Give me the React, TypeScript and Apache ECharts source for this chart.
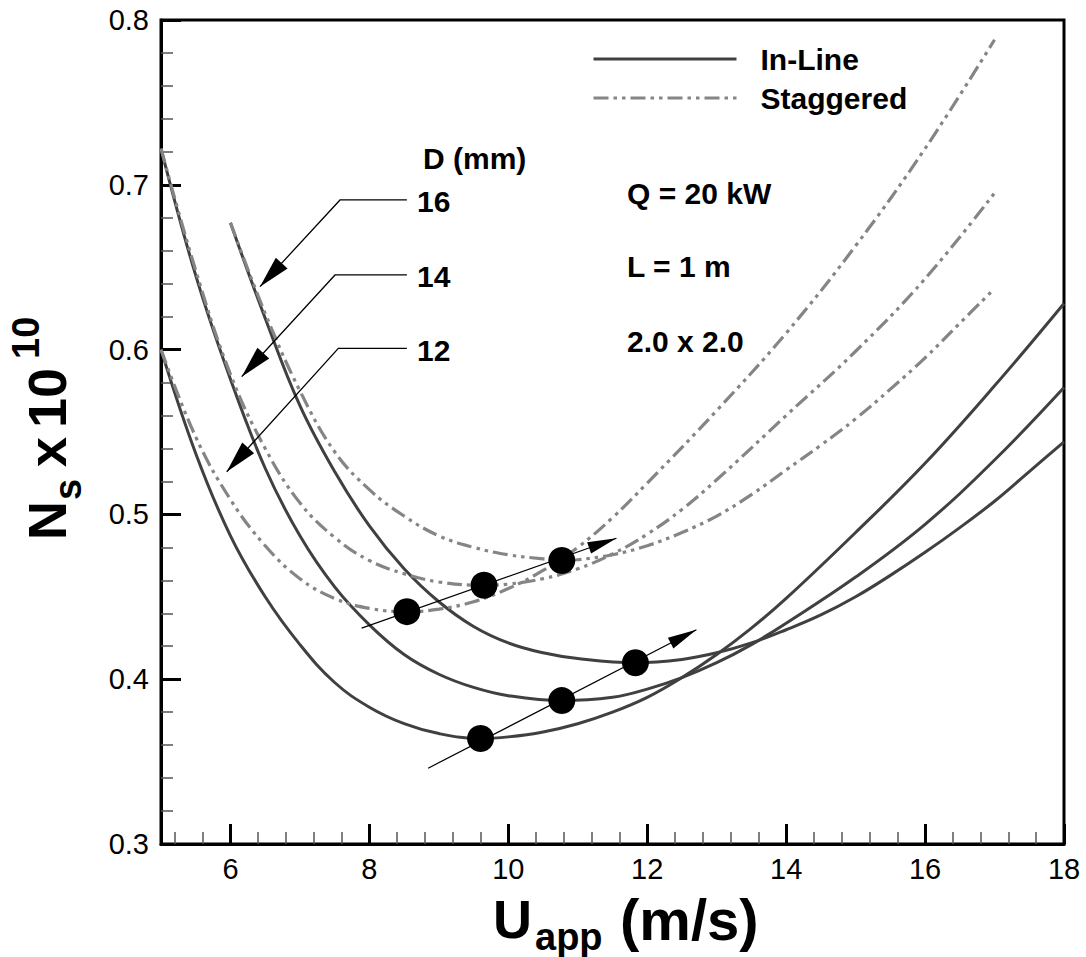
import React, { useEffect, useRef } from 'react';
import * as echarts from 'echarts';

const FONT = '"Liberation Sans", Arial, Helvetica, sans-serif';

// Axis ticks
const xLabelTicks = [6, 8, 10, 12, 14, 16, 18];
const xMinorTicks = [5.2, 5.6, 6.4, 6.8, 7.2, 7.6, 8.4, 8.8, 9.2, 9.6, 10.4, 10.8, 11.2, 11.6, 12.4, 12.8, 13.2, 13.6, 14.4, 14.8, 15.2, 15.6, 16.4, 16.8, 17.2, 17.6];

// In-Line curves (U_app, Ns x 1e10)
const inline12 = [[5.0, 0.600], [5.5, 0.537], [6.0, 0.487], [6.5, 0.450], [7.0, 0.421], [7.5, 0.398], [8.0, 0.383], [8.5, 0.373], [9.0, 0.367], [9.6, 0.364], [10.0, 0.365], [10.5, 0.368], [11.0, 0.373], [11.5, 0.380], [12.0, 0.389], [12.5, 0.401], [13.0, 0.415], [13.5, 0.431], [14.0, 0.449], [15.0, 0.489], [16.0, 0.531], [17.0, 0.578], [18.0, 0.628]];
const inline14 = [[5.0, 0.722], [5.5, 0.645], [6.0, 0.582], [6.5, 0.528], [7.0, 0.487], [7.5, 0.456], [8.0, 0.433], [8.5, 0.415], [9.0, 0.403], [9.5, 0.395], [10.0, 0.390], [10.77, 0.387], [11.5, 0.389], [12.0, 0.394], [12.5, 0.401], [13.0, 0.410], [13.5, 0.421], [14.0, 0.434], [15.0, 0.462], [16.0, 0.494], [17.0, 0.533], [18.0, 0.577]];
const inline16 = [[6.0, 0.677], [6.5, 0.619], [7.0, 0.566], [7.5, 0.526], [8.0, 0.493], [8.5, 0.467], [9.0, 0.447], [9.5, 0.432], [10.0, 0.422], [10.5, 0.416], [11.0, 0.4125], [11.83, 0.410], [12.5, 0.412], [13.0, 0.416], [13.5, 0.422], [14.0, 0.430], [14.5, 0.439], [15.0, 0.450], [15.5, 0.463], [16.0, 0.477], [16.5, 0.492], [17.0, 0.508], [17.5, 0.526], [18.0, 0.544]];

// Staggered curves
const stag12 = [[5.0, 0.600], [5.5, 0.547], [6.0, 0.509], [6.5, 0.481], [7.0, 0.461], [7.5, 0.449], [8.0, 0.443], [8.54, 0.441], [9.0, 0.4425], [9.5, 0.447], [10.0, 0.455], [10.5, 0.466], [11.0, 0.480], [11.5, 0.498], [12.0, 0.519], [13.0, 0.563], [14.0, 0.610], [15.0, 0.663], [16.0, 0.722], [17.0, 0.788]];
const stag14 = [[5.0, 0.722], [5.5, 0.648], [6.0, 0.585], [6.5, 0.540], [7.0, 0.507], [7.5, 0.486], [8.0, 0.472], [8.5, 0.464], [9.0, 0.459], [9.65, 0.457], [10.0, 0.4577], [10.5, 0.461], [11.0, 0.467], [11.5, 0.476], [12.0, 0.488], [12.5, 0.503], [13.0, 0.521], [14.0, 0.560], [15.0, 0.599], [16.0, 0.643], [17.0, 0.695]];
const stag16 = [[6.0, 0.677], [6.5, 0.622], [7.0, 0.575], [7.5, 0.538], [8.0, 0.515], [8.5, 0.499], [9.0, 0.487], [9.5, 0.480], [10.0, 0.4755], [10.5, 0.473], [10.77, 0.472], [11.0, 0.4725], [11.5, 0.4755], [12.0, 0.481], [12.5, 0.489], [13.0, 0.499], [13.5, 0.512], [14.0, 0.527], [14.5, 0.542], [15.0, 0.558], [15.5, 0.576], [16.0, 0.595], [16.5, 0.616], [17.0, 0.637]];

// Optimum points
const inlineOptima = [[9.60, 0.364], [10.77, 0.387], [11.83, 0.410]];
const staggeredOptima = [[8.54, 0.441], [9.65, 0.457], [10.77, 0.472]];

// Trend arrows (start -> tip) and label leaders (label end -> elbow -> tip)
const inlineTrend = [[8.846, 0.346], [12.708, 0.430]];
const staggeredTrend = [[7.888, 0.431], [11.557, 0.4855]];
const leader16 = [[8.54, 0.6908], [7.577, 0.6908], [6.425, 0.6382]];
const leader14 = [[8.54, 0.6453], [7.505, 0.6453], [6.162, 0.5836]];
const leader12 = [[8.54, 0.6008], [7.553, 0.6008], [5.946, 0.5259]];

const arrowDefs = [
  { pts: inlineTrend, len: 29, wid: 12, lw: 1.2 },
  { pts: staggeredTrend, len: 29, wid: 12, lw: 1.2 },
  { pts: leader16, len: 32, wid: 16, lw: 1.3 },
  { pts: leader14, len: 32, wid: 16, lw: 1.3 },
  { pts: leader12, len: 32, wid: 16, lw: 1.3 },
];

const IN_COLOR = '#404040';
const ST_COLOR = '#858585';
const ST_DASH = [15, 5, 3.5, 5, 3.5, 5];

function lineSeries(name: string, data: number[][], staggered: boolean) {
  return {
    type: 'line',
    name,
    data,
    smooth: 0.4,
    symbol: 'none',
    z: 2,
    lineStyle: staggered
      ? { color: ST_COLOR, width: 3.2, type: ST_DASH }
      : { color: IN_COLOR, width: 3, type: 'solid' },
    itemStyle: { color: staggered ? ST_COLOR : IN_COLOR },
  };
}

function txt(text: string, x: number, y: number, size: number, bold = true) {
  return {
    type: 'text',
    x,
    y,
    z: 10,
    style: {
      text,
      fill: '#000',
      font: `${bold ? 'bold ' : ''}${size}px ${FONT}`,
      align: 'left',
      verticalAlign: 'middle',
      textAlign: 'left',
      textVerticalAlign: 'middle',
    },
  };
}

export default function App() {
  const ref = useRef<HTMLDivElement>(null);
  useEffect(() => {
    if (!ref.current) return;
    const chart = echarts.init(ref.current, undefined, { renderer: 'svg' });
    const F = 54;
    const f = 38;
    const option: any = {
      animation: false,
      backgroundColor: '#fff',
      textStyle: { fontFamily: FONT },
      grid: { left: 161, top: 20, width: 903, height: 824, show: true, borderColor: '#000', borderWidth: 3 },
      legend: {
        data: ['In-Line', 'Staggered'],
        orient: 'vertical',
        left: 592,
        top: 44,
        padding: 0,
        itemWidth: 143,
        itemHeight: 14,
        itemGap: 9,
        itemStyle: { opacity: 0, borderWidth: 0 },
        lineStyle: { width: 3, type: 'inherit', color: 'inherit' },
        textStyle: { fontSize: 30, fontWeight: 'bold', color: '#000', fontFamily: FONT, lineHeight: 30, padding: [0, 0, 0, 19] },
      },
      xAxis: [
        {
          type: 'value',
          min: 5,
          max: 18,
          axisLine: { show: true, lineStyle: { color: '#000', width: 3 } },
          axisTick: { show: true, inside: true, length: 20, customValues: xLabelTicks, lineStyle: { color: '#000', width: 3 } },
          axisLabel: { show: true, customValues: xLabelTicks, fontSize: 29, color: '#000', margin: 10, fontFamily: FONT },
          splitLine: { show: false },
        },
        {
          type: 'value',
          min: 5,
          max: 18,
          position: 'bottom',
          axisLine: { show: false },
          axisTick: { show: true, inside: true, length: 12, customValues: xMinorTicks, lineStyle: { color: '#555', width: 1.5 } },
          axisLabel: { show: false },
          splitLine: { show: false },
        },
      ],
      yAxis: {
        type: 'value',
        min: 0.3,
        max: 0.8,
        interval: 0.1,
        axisLine: { show: true, lineStyle: { color: '#000', width: 3 } },
        axisTick: { show: true, inside: true, length: 20, lineStyle: { color: '#000', width: 3 } },
        minorTick: { show: true, splitNumber: 5, length: 12, lineStyle: { color: '#555', width: 1.5 } },
        axisLabel: { fontSize: 29, color: '#000', margin: 12, fontFamily: FONT, formatter: (v: number) => v.toFixed(1) },
        splitLine: { show: false },
        minorSplitLine: { show: false },
      },
      series: [
        lineSeries('In-Line', inline12, false),
        lineSeries('In-Line', inline14, false),
        lineSeries('In-Line', inline16, false),
        lineSeries('Staggered', stag12, true),
        lineSeries('Staggered', stag14, true),
        lineSeries('Staggered', stag16, true),
        {
          type: 'custom',
          name: 'arrows',
          z: 3,
          data: arrowDefs.map((a) => a.pts[a.pts.length - 1]),
          renderItem: (params: any, api: any) => {
            const a = arrowDefs[params.dataIndex];
            const pts = a.pts.map((p) => api.coord(p));
            const n = pts.length;
            const [x2, y2] = pts[n - 1];
            const [x1, y1] = pts[n - 2];
            const ang = Math.atan2(y2 - y1, x2 - x1);
            const bx = x2 - a.len * Math.cos(ang);
            const by = y2 - a.len * Math.sin(ang);
            const nx = (-Math.sin(ang) * a.wid) / 2;
            const ny = (Math.cos(ang) * a.wid) / 2;
            return {
              type: 'group',
              children: [
                { type: 'polyline', shape: { points: pts }, style: { stroke: '#000', lineWidth: a.lw, fill: null } },
                { type: 'polygon', shape: { points: [[x2, y2], [bx + nx, by + ny], [bx - nx, by - ny]] }, style: { fill: '#000', stroke: null } },
              ],
            };
          },
        },
        {
          type: 'scatter',
          name: 'In-Line optimum',
          data: inlineOptima,
          symbol: 'circle',
          symbolSize: 27,
          z: 5,
          itemStyle: { color: '#000', opacity: 1 },
        },
        {
          type: 'scatter',
          name: 'Staggered optimum',
          data: staggeredOptima,
          symbol: 'circle',
          symbolSize: 27,
          z: 5,
          itemStyle: { color: '#000', opacity: 1 },
        },
      ],
      graphic: {
        elements: [
          txt('D (mm)', 423, 158, 30),
          txt('16', 417, 201, 30),
          txt('14', 417, 276, 30),
          txt('12', 417, 350, 30),
          txt('Q = 20 kW', 627, 193, 30),
          txt('L = 1 m', 627, 266, 30),
          txt('2.0 x 2.0', 627, 341, 30),
          // x-axis title
          txt('U', 493, 919, F),
          txt('app', 535, 937, f),
          txt('(m/s)', 620, 919, 58),
          // y-axis title (rotated)
          {
            type: 'group',
            x: 47,
            y: 540,
            rotation: Math.PI / 2,
            children: [
              txt('N', 0, 0, F),
              txt('s', 40, 21, f),
              txt('x', 73, 0, F),
              txt('10', 112, 0, F),
              txt('10', 181, -21, f),
            ],
          },
        ],
      },
    };
    chart.setOption(option);
    return () => chart.dispose();
  }, []);
  return <div ref={ref} style={{ position: 'absolute', left: 0, top: 0, width: 1086, height: 957 }} />;
}
